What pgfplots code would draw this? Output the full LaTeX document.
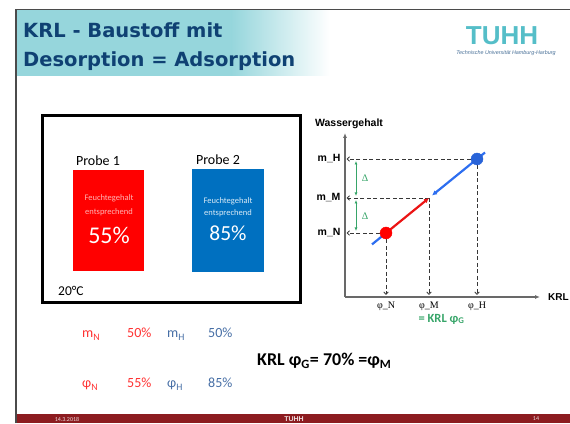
\documentclass[border=0pt]{standalone}
\usepackage{pgfplots}
\pgfplotsset{compat=1.18}
\usetikzlibrary{arrows.meta}
\usepackage{fontspec}
\setmainfont{Carlito}
\newfontfamily\dejavu{DejaVu Sans}
\newfontfamily\arial{Liberation Sans}
\newfontfamily\tnr{Liberation Serif}
\definecolor{band}{RGB}{150,214,220}
\definecolor{titleblue}{RGB}{15,65,115}
\definecolor{framegray}{RGB}{75,75,75}
\definecolor{footred}{RGB}{140,28,32}
\definecolor{logoteal}{RGB}{85,190,200}
\definecolor{logosub}{RGB}{70,110,150}
\definecolor{boxred}{RGB}{255,0,0}
\definecolor{boxblue}{RGB}{0,112,192}
\definecolor{txtred}{RGB}{255,50,50}
\definecolor{txtblue}{RGB}{70,110,165}
\definecolor{axisgray}{RGB}{105,105,105}
\definecolor{dashgray}{RGB}{55,55,55}
\definecolor{grn}{RGB}{55,165,105}
\definecolor{lineblue}{RGB}{45,110,240}
\definecolor{linered}{RGB}{235,20,20}
\newcommand{\fs}[1]{\fontsize{#1}{#1}\selectfont}
\begin{document}
\begin{tikzpicture}[x=1pt,y=1pt]
\useasboundingbox (0,0) rectangle (570,423);
\begin{scope}[yshift=423pt,y=-1pt]
  % title band
  \fill[band] (17,10.5) rectangle (232,76);
  \shade[left color=band,right color=white] (231.5,10.5) rectangle (330,76);
  % frame
  \draw[framegray,line width=1.5pt] (16,423) -- (16,9.5) -- (570,9.5);
  % footer
  \fill[footred] (16.8,414) rectangle (570,423);
  \node[inner sep=0,text=white!85!footred,font=\fs{6}] at (67,419) {14.3.2018};
  \node[inner sep=0,text=white!85!footred,font=\arial\bfseries\fs{7}] at (294,419) {TUHH};
  \node[inner sep=0,text=white!85!footred,font=\fs{6}] at (536,419) {14};
  % title
  \node[anchor=base west,inner sep=0,text=titleblue,font=\dejavu\bfseries\fs{19.5}] at (23,38) {KRL - Baustoff mit};
  \node[anchor=base west,inner sep=0,text=titleblue,font=\dejavu\bfseries\fs{19.5}] at (23,67) {Desorption = Adsorption};
  % logo
  \node[inner sep=0,text=logoteal,font=\arial\bfseries\fs{26}] at (502,35.5) {TUHH};
  \node[inner sep=0,text=logosub,font=\arial\itshape\fs{5.4}] at (506,53) {Technische Universität Hamburg-Harburg};
  % left panel
  \draw[black,line width=3pt] (42,116) rectangle (300,303);
  \fill[boxred] (73,170) rectangle (144,271);
  \fill[boxblue] (192,169) rectangle (264,272);
  \node[inner sep=0,font=\fs{14}] at (98,161) {Probe 1};
  \node[inner sep=0,font=\fs{14}] at (218,160) {Probe 2};
  \node[inner sep=0,text=white!70!boxred,font=\fs{8.5}] at (109,198) {Feuchtegehalt};
  \node[inner sep=0,text=white!70!boxred,font=\fs{8.5}] at (109,212.5) {entsprechend};
  \node[inner sep=0,text=white,font=\fs{24}] at (109,235) {55\%};
  \node[inner sep=0,text=white!85!boxblue,font=\fs{8.5}] at (228,201) {Feuchtegehalt};
  \node[inner sep=0,text=white!85!boxblue,font=\fs{8.5}] at (228,213.5) {entsprechend};
  \node[inner sep=0,text=white,font=\fs{21.5}] at (228,233) {85\%};
  \node[anchor=west,inner sep=0,font=\fs{13.5}] at (58,291) {20°C};
  % bottom values
  \node[anchor=base west,inner sep=0,text=txtred,font=\fs{14}] at (82,338) {m\textsubscript{N}};
  \node[anchor=base west,inner sep=0,text=txtred,font=\fs{14}] at (127,338) {50\%};
  \node[anchor=base west,inner sep=0,text=txtblue,font=\fs{14}] at (167,338) {m\textsubscript{H}};
  \node[anchor=base west,inner sep=0,text=txtblue,font=\fs{14}] at (208,338) {50\%};
  \node[anchor=base west,inner sep=0,text=txtred,font=\fs{14}] at (82,388) {φ\textsubscript{N}};
  \node[anchor=base west,inner sep=0,text=txtred,font=\fs{14}] at (127,388) {55\%};
  \node[anchor=base west,inner sep=0,text=txtblue,font=\fs{14}] at (167,388) {φ\textsubscript{H}};
  \node[anchor=base west,inner sep=0,text=txtblue,font=\fs{14}] at (208,388) {85\%};
  \node[anchor=base west,inner sep=0,font=\bfseries\fs{18}] at (257,366) {KRL φ\textsubscript{G}= 70\% =φ\textsubscript{M}};
\end{scope}
\begin{axis}[
  at={(345pt,126pt)}, anchor=south west,
  scale only axis, width=195pt, height=164pt,
  xmin=0, xmax=195, ymin=0, ymax=164,
  axis x line=bottom, axis y line=left,
  axis line style={-{Latex[length=5pt,width=4pt]}, draw=axisgray, line width=1.3pt},
  xtick={41,84,132}, ytick={64,99,138},
  xticklabels={φ\_N, φ\_M, φ\_H},
  yticklabels={m\_N, m\_M, m\_H},
  major tick length=0pt,
  xticklabel style={font=\tnr\fs{10}, yshift=-1pt},
  yticklabel style={font=\arial\bfseries\fs{10.5}, xshift=-1pt},
  xlabel={KRL}, xlabel style={at={(axis description cs:1,0)}, anchor=west, inner sep=0, xshift=8pt, font=\arial\bfseries\fs{10}},
  ylabel={Wassergehalt}, ylabel style={rotate=-90, at={(axis description cs:0,1)}, anchor=south, inner sep=0, xshift=4pt, yshift=4.5pt, font=\arial\bfseries\fs{10.5}},
  clip=false,
  dashline/.style={draw=dashgray, line width=0.8pt, dash pattern=on 4pt off 2.5pt, -{Straight Barb[length=2.5pt,width=4.5pt]}},
  garrow/.style={draw=grn, line width=0.8pt, {Latex[length=3.5pt,width=3pt]}-{Latex[length=3.5pt,width=3pt]}},
]
\addplot[dashline] coordinates {(132,138) (1.5,138)};
\addplot[dashline] coordinates {(84,99) (1.5,99)};
\addplot[dashline] coordinates {(41,64) (1.5,64)};
\addplot[dashline] coordinates {(132,138) (132,2)};
\addplot[dashline] coordinates {(84,99) (84,2)};
\addplot[dashline] coordinates {(41,64) (41,2)};
\addplot[garrow] coordinates {(11,136) (11,101)};
\addplot[garrow] coordinates {(11,97) (11,66)};
\node[text=grn, font=\tnr\fs{10}] at (axis cs:20,119) {Δ};
\node[text=grn, font=\tnr\fs{10}] at (axis cs:20,81) {Δ};
\node[text=grn, font=\bfseries\fs{12.5}] at (axis cs:96.5,-22) {= KRL φ\textsubscript{G}};
\addplot[draw=lineblue, line width=2.2pt] coordinates {(27,52.6) (41,64)};
\addplot[draw=lineblue, line width=2.2pt, -{Latex[length=5pt,width=5pt]}] coordinates {(140,144.5) (87,101.5)};
\addplot[draw=linered, line width=2.2pt, -{Latex[length=5pt,width=5pt]}] coordinates {(41,64) (84,99)};
\addplot[only marks, mark=*, mark size=6pt, mark options={fill=boxred, draw=boxred}] coordinates {(41,64)};
\addplot[only marks, mark=*, mark size=6pt, mark options={fill=lineblue!90!black, draw=lineblue!90!black}] coordinates {(132,138)};
\end{axis}
\end{tikzpicture}
\end{document}
